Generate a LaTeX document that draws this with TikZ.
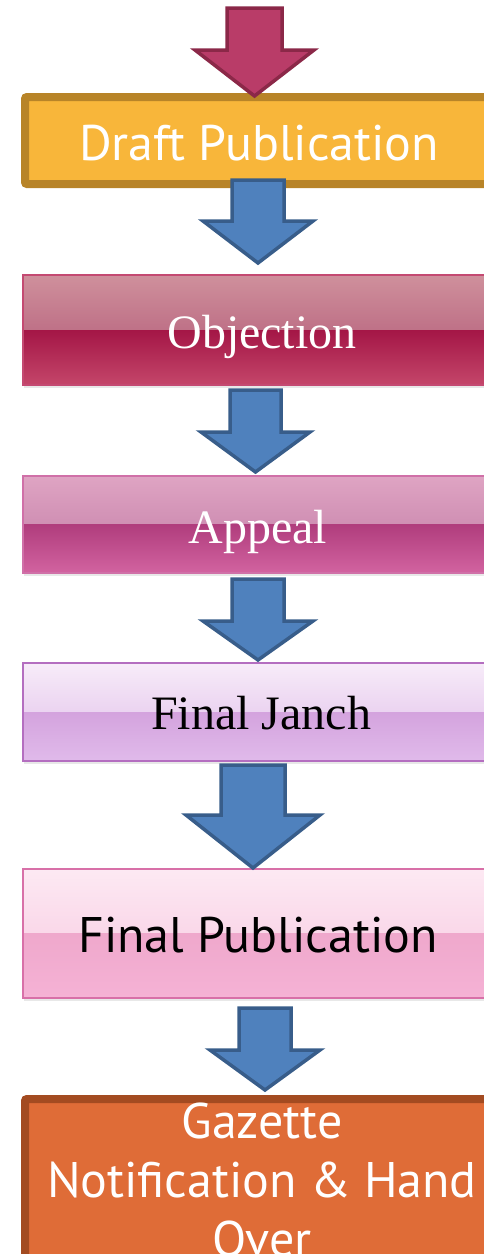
\documentclass[tikz,border=0pt]{standalone}
\usepackage{fontspec}
\setmainfont{Liberation Serif}
\newfontfamily\labelsans{PT Sans}
\usetikzlibrary{shadows}

% palette
\definecolor{redfill}{HTML}{B93C68}
\definecolor{redline}{HTML}{8B2848}
\definecolor{bluefill}{HTML}{4F81BD}
\definecolor{blueline}{HTML}{385D8A}
\definecolor{draftfill}{HTML}{F8B63A}
\definecolor{draftline}{HTML}{B88428}
\definecolor{gazfill}{HTML}{DF6C37}
\definecolor{gazline}{HTML}{A34B21}
\definecolor{objA}{HTML}{CF909C}
\definecolor{objB}{HTML}{AE5272}
\definecolor{objC}{HTML}{A41646}
\definecolor{objD}{HTML}{C4466A}
\definecolor{objL}{HTML}{C44A72}
\definecolor{appA}{HTML}{DFA4C3}
\definecolor{appB}{HTML}{C07AA4}
\definecolor{appC}{HTML}{B03D7D}
\definecolor{appD}{HTML}{D263A0}
\definecolor{appL}{HTML}{D070A8}
\definecolor{janA}{HTML}{F7ECF9}
\definecolor{janB}{HTML}{DFBBE8}
\definecolor{janC}{HTML}{D4A3DE}
\definecolor{janD}{HTML}{E0BAEA}
\definecolor{janL}{HTML}{B46EC0}
\definecolor{pubA}{HTML}{FDE9F3}
\definecolor{pubB}{HTML}{F6C6DF}
\definecolor{pubC}{HTML}{EFA8CC}
\definecolor{pubD}{HTML}{F5B2D5}
\definecolor{pubL}{HTML}{D870A8}

\tikzset{
  solidbox/.style n args={2}{draw=#2, fill=#1, line width=8pt,
    rounded corners=2pt, inner sep=0pt},
  glossbox/.style n args={5}{draw=#5, line width=1.2pt, inner sep=0pt,
    drop shadow={shadow xshift=1pt, shadow yshift=-3pt, opacity=0.18},
    path picture={
      \fill[top color=#1, bottom color=#2]
        (path picture bounding box.north west) rectangle (path picture bounding box.east);
      \fill[top color=#3, bottom color=#4]
        (path picture bounding box.west) rectangle (path picture bounding box.south east);
    }},
  serifword/.style={font=\fontsize{48}{50}\selectfont, anchor=base, inner sep=0pt},
  sansword/.style={font=\labelsans\fontsize{50}{54}\selectfont, anchor=base, inner sep=0pt},
  redarrow/.style={fill=redfill, draw=redline, line width=3.5pt, line join=miter},
  bluearrow/.style={fill=bluefill, draw=blueline, line width=3.5pt, line join=miter},
}

% block arrow: style, shaft left, shaft right, top, head start, head left, head right, tip
\newcommand{\flowarrow}[8]{%
  \draw[#1] (#2,#4) -- (#3,#4) -- (#3,#5) -- (#7,#5)
    -- ({(#6+#7)/2},#8) -- (#6,#5) -- (#2,#5) -- cycle;}

\begin{document}
\begin{tikzpicture}[x=1pt, y=-1pt]
\useasboundingbox (0,0) rectangle (484,1254);

% boxes
\node[solidbox={draftfill}{draftline}, minimum width=468pt, minimum height=87pt]
  (draft) at (259,140.5) {};
\node[glossbox={objA}{objB}{objC}{objD}{objL}, minimum width=478pt, minimum height=110pt]
  (objection) at (262,330) {};
\node[glossbox={appA}{appB}{appC}{appD}{appL}, minimum width=470pt, minimum height=97pt]
  (appeal) at (258,524.5) {};
\node[glossbox={janA}{janB}{janC}{janD}{janL}, minimum width=476pt, minimum height=98pt]
  (janch) at (261,712) {};
\node[glossbox={pubA}{pubB}{pubC}{pubD}{pubL}, minimum width=470pt, minimum height=129pt]
  (finalpub) at (258,933.5) {};
\node[solidbox={gazfill}{gazline}, minimum width=474pt, minimum height=180pt]
  (gazette) at (262,1189) {};

% labels
\node[sansword, text=white] (draft-t) at (259,160) {Draft Publication};
\node[serifword, text=white] (objection-t) at (262,348) {Objection};
\node[serifword, text=white] (appeal-t) at (258,543) {Appeal};
\node[serifword, text=black] (janch-t) at (261,729) {Final Janch};
\node[sansword, text=black] (finalpub-t) at (258,952) {Final Publication};
\node[sansword, text=white] (gazette-t1) at (262,1138) {Gazette};
\node[sansword, text=white] (gazette-t2) at (262,1197) {Notification \& Hand};
\node[sansword, text=white] (gazette-t3) at (262,1256) {Over};

% block arrows between the stages
\flowarrow{redarrow}{227}{282}{8}{50}{195}{314}{96}
\flowarrow{bluearrow}{232}{284}{180}{221}{203}{313}{263}
\flowarrow{bluearrow}{230}{281}{390}{432}{201}{310}{472}
\flowarrow{bluearrow}{232}{284}{579}{621}{203}{313}{660}
\flowarrow{bluearrow}{221}{285}{765}{815}{186}{320}{868}
\flowarrow{bluearrow}{239}{291}{1008}{1050}{210}{320}{1090}
\end{tikzpicture}
\end{document}
